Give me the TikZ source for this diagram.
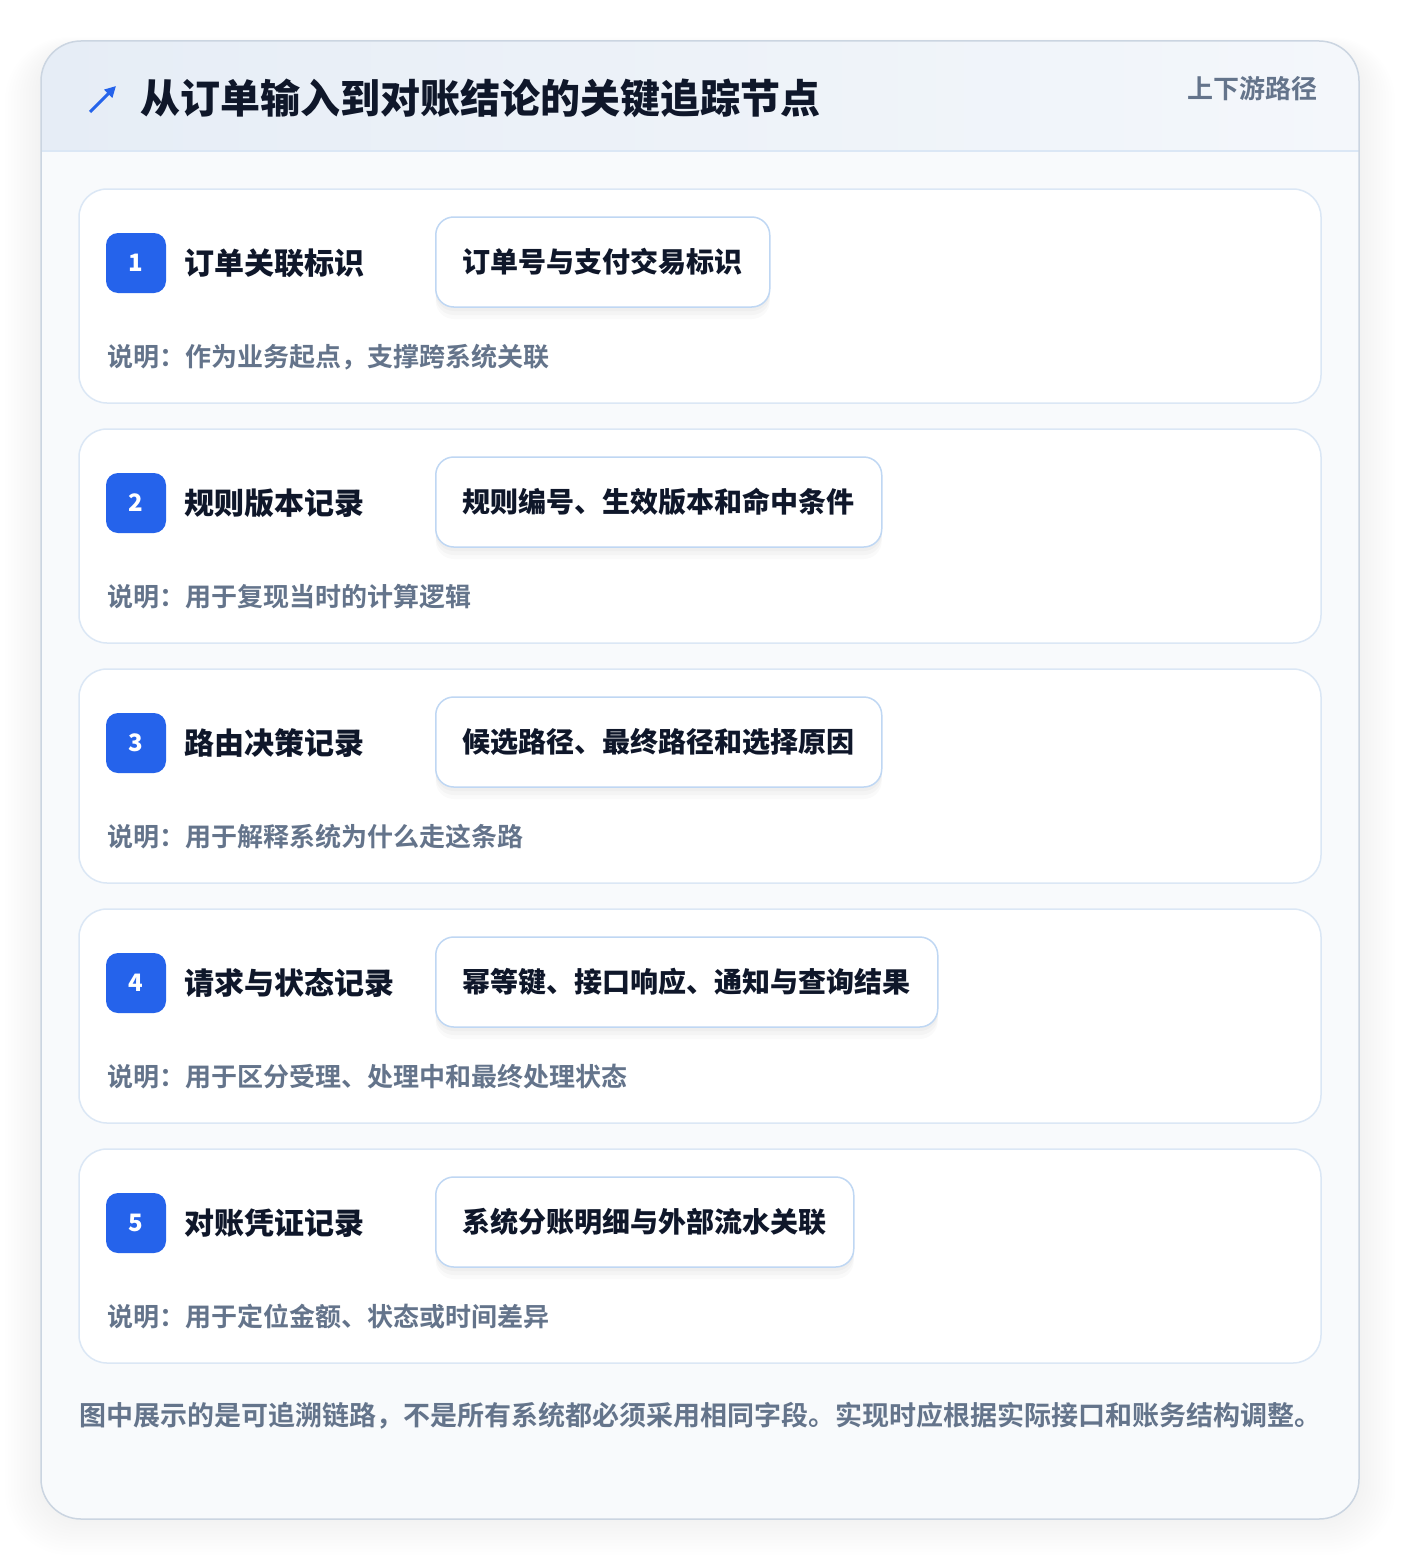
\documentclass[tikz,border=0pt]{standalone}
\usepackage{fontspec}
\setmainfont{Noto Sans CJK SC}[BoldFont={* Bold}]
\newfontfamily\heavy{Noto Sans CJK SC Black}
\usetikzlibrary{positioning,arrows.meta,shadows}
\definecolor{ink}{HTML}{0F172A}
\definecolor{muted}{HTML}{64748B}
\definecolor{accent}{HTML}{2563EB}
\definecolor{frame}{HTML}{CBD5E1}
\definecolor{cardline}{HTML}{DBE7F5}
\definecolor{fldline}{HTML}{BFD7F3}
\definecolor{bodybg}{HTML}{F8FAFC}
\definecolor{hdleft}{HTML}{E6EDF6}
\definecolor{hdright}{HTML}{F4F7FB}
\newcommand{\fs}[1]{\fontsize{#1}{#1}\selectfont\bfseries}
\newcommand{\fh}[1]{\fontsize{#1}{#1}\selectfont\heavy}
\tikzset{
  txt/.style={inner sep=0pt,anchor=west},
  badge/.style={fill=accent,text=white,rounded corners=12,minimum size=60,inner sep=0pt,font=\fh{24}},
  lab/.style={txt,text=ink,font=\fh{30},text height=24.9pt,text depth=2.1pt},
  dsc/.style={txt,text=muted,font=\fs{26},text height=21.6pt,text depth=1.8pt},
  fldbox/.style={txt,draw=fldline,line width=1.5,fill=white,rounded corners=18,
    inner xsep=27,minimum height=90,text=ink,font=\fh{28},text height=23.2pt,text depth=2pt,
    general shadow={fill=black,opacity=.018,shadow yshift=-12pt},
    general shadow={fill=black,opacity=.022,shadow yshift=-8pt},
    general shadow={fill=black,opacity=.025,shadow yshift=-4pt}},
  card/.style={draw=cardline,line width=1.5,fill=white,rounded corners=28}
}
\begin{document}
\begin{tikzpicture}[x=1pt,y=-1pt]
  \useasboundingbox[fill=white] (0,0) rectangle (1400,1560);
  % soft shadow of the panel
  \foreach \i in {1,...,12}
    \fill[black,opacity=.005,rounded corners=40+2*\i]
      (41-3*\i,41-\i+8) rectangle (1359+3*\i,1519+3*\i);
  \fill[bodybg,rounded corners=40] (41,41) rectangle (1359,1519);
  \begin{scope}
    \clip[rounded corners=40] (41,41) rectangle (1359,1519);
    \shade[left color=hdleft,right color=hdright] (41,41) rectangle (1359,151);
  \end{scope}
  \draw[cardline,line width=1.5] (41,151) -- (1359,151);
  \draw[frame,line width=1.5,rounded corners=40] (41,41) rectangle (1359,1519);
  % header
  \draw[accent,line width=3,-{Triangle[length=11,width=11]}] (90,112) -- (116,86);
  \node[txt,text=ink,font=\fh{40},text height=33.2pt,text depth=2.8pt]
    (title) at (140,98) {从订单输入到对账结论的关键追踪节点};
  \node[txt,anchor=east,text=muted,font=\fs{26},text height=21.6pt,text depth=1.8pt]
    (path) at (1318,89) {上下游路径};
  % five trace cards
  \foreach \nm/\lab/\fld/\dsc [count=\k from 0] in {
      1/订单关联标识/订单号与支付交易标识/说明：作为业务起点，支撑跨系统关联,
      2/规则版本记录/规则编号、生效版本和命中条件/说明：用于复现当时的计算逻辑,
      3/路由决策记录/候选路径、最终路径和选择原因/说明：用于解释系统为什么走这条路,
      4/请求与状态记录/幂等键、接口响应、通知与查询结果/说明：用于区分受理、处理中和最终处理状态,
      5/对账凭证记录/系统分账明细与外部流水关联/说明：用于定位金额、状态或时间差异}
  {
    \pgfmathsetmacro\ty{189+240*\k}
    \draw[card] (79,\ty) rectangle (1321,\ty+214);
    \node[badge] (badge\nm) at (136,\ty+74) {\nm};
    \node[lab,right=18 of badge\nm] (lab\nm) {\lab};
    \node[fldbox] (fld\nm) at (435,\ty+73) {\fld};
    \node[dsc] (dsc\nm) at (107,\ty+168) {\dsc};
  }
  \node[txt,text=muted,font=\fs{27},text height=22.4pt,text depth=1.9pt] (note) at (79,1415)
    {图中展示的是可追溯链路，不是所有系统都必须采用相同字段。实现时应根据实际接口和账务结构调整。};
\end{tikzpicture}
\end{document}
